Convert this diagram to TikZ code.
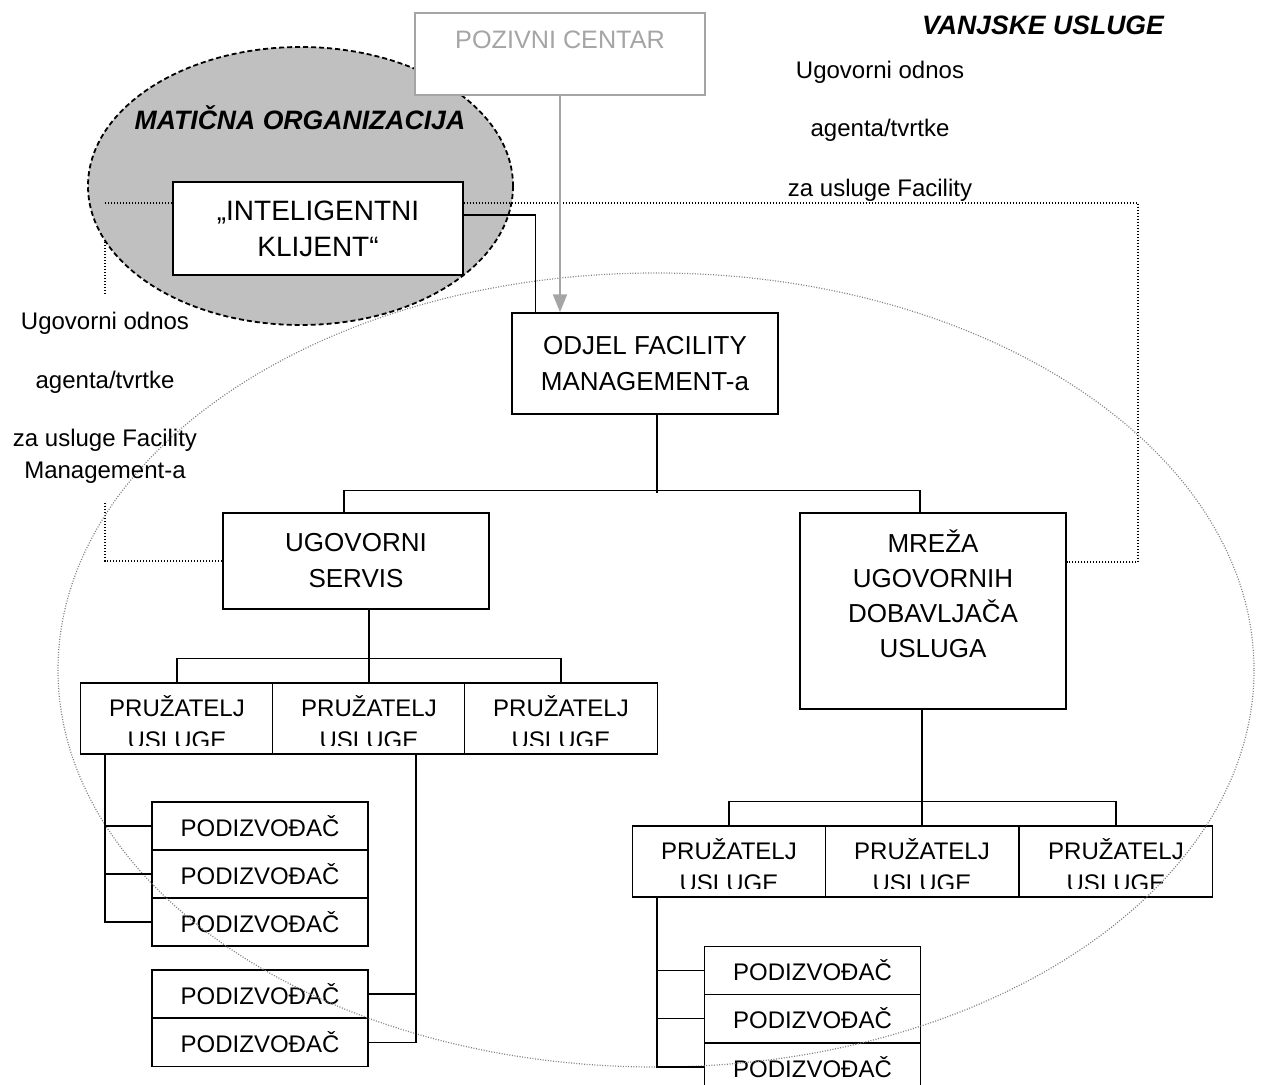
\documentclass[tikz,border=0pt]{standalone}
\usepackage{fontspec}
\setmainfont{Liberation Sans}
\usetikzlibrary{arrows.meta}
\definecolor{orggray}{RGB}{192,192,192}
\definecolor{callgray}{RGB}{165,165,165}
\begin{document}
\begin{tikzpicture}[
        x = 0.5pt, y = -0.5pt,
        line width = 0.7pt,
        box/.style = {draw, fill = white, align = center, inner sep = 0pt, font = \fontsize{13}{18}\selectfont},
        plbox/.style = {draw, fill = white, minimum width = 96.5pt, minimum height = 35.5pt, inner sep = 0pt},
        pltext/.style = {align = center, inner sep = 0pt, yshift = -1.6pt, font = \fontsize{12}{16}\selectfont},
        podbox/.style = {box, minimum width = 108pt, minimum height = 24pt, font = \fontsize{12}{14}\selectfont},
        dots/.style = {line width = 0.8pt, dash pattern = on 0.6pt off 0.9pt},
        note/.style = {inner sep = 0pt, align = center, font = \fontsize{12}{16}\selectfont},
        title/.style = {inner sep = 0pt, font = \bfseries\itshape\fontsize{13.3}{16}\selectfont}
    ]
    \useasboundingbox (0,0) rectangle (1263,1085);

    % maticna organizacija
    \draw[line width = 0.9pt, dash pattern = on 2.5pt off 1.5pt, fill = orggray] (300.5,186) ellipse [x radius = 212.5, y radius = 139];

    % boxes
    \node[box, minimum width = 145pt, minimum height = 41pt, draw = callgray, line width = 1pt, text = callgray, font = \fontsize{12.6}{14}\selectfont] (poz) at (560,54) {POZIVNI CENTAR\\ \mbox{}};
    \node[box, minimum width = 145pt, minimum height = 46.5pt, font = \fontsize{14}{18}\selectfont] (int) at (318,228.5) {„INTELIGENTNI\\KLIJENT“};
    \node[box, minimum width = 133pt, minimum height = 50.5pt] (odjel) at (645,363.5) {ODJEL FACILITY\\MANAGEMENT-a};
    \node[box, minimum width = 133pt, minimum height = 48pt] (ugs) at (356,561) {UGOVORNI\\SERVIS};
    \node[box, minimum width = 133pt, minimum height = 98pt, font = \fontsize{13}{17.5}\selectfont] (mreza) at (933,611) {MREŽA\\UGOVORNIH\\DOBAVLJAČA\\USLUGA\\ \mbox{}};

    \foreach \x [count = \i] in {177,369,561}
        \node[plbox] (pl\i) at (\x,718.5) {};
    \foreach \x [count = \i] in {729,922,1116}
        \node[plbox] (pr\i) at (\x,861.5) {};

    \foreach \y [count = \i] in {826,874,922}
        \node[podbox] (pa\i) at (260,\y) {PODIZVOĐAČ};
    \foreach \y [count = \i] in {994,1042.5}
        \node[podbox] (pb\i) at (260,\y) {PODIZVOĐAČ};
    \foreach \y [count = \i] in {970.5,1018.5,1067}
        \node[podbox] (pc\i) at (812.5,\y) {PODIZVOĐAČ};

    % pruzatelj usluge, text cut off at the bottom
    \begin{scope}
        \clip (pl1.north west) rectangle ([yshift = 4.5pt]pl3.south east);
        \foreach \i in {1,2,3}
            \node[pltext] (plt\i) at (pl\i) {PRUŽATELJ\\USLUGE};
    \end{scope}
    \begin{scope}
        \clip (pr1.north west) rectangle ([yshift = 4.5pt]pr3.south east);
        \foreach \i in {1,2,3}
            \node[pltext] (prt\i) at (pr\i) {PRUŽATELJ\\USLUGE};
    \end{scope}

    % ugovorni odnos (dotted)
    \coordinate (dl) at (105,203);
    \coordinate (dr) at (1138,203);
    \coordinate (dr2) at (1138,562);
    \coordinate (dl1) at (105,242);
    \coordinate (dl2) at (105,295);
    \coordinate (dl3) at (105,503);
    \draw[dots] (dl) -- (dl -| int.west);
    \draw[dots] (dl -| int.east) -- (dr) -- (dr2) -- (dr2 -| mreza.east);
    \draw[dots] (dl1) -- (dl2);
    \draw[dots] (dl3) |- (ugs.west);

    % vanjske usluge
    \draw[gray, line width = 0.6pt, dash pattern = on 0.5pt off 0.8pt] (656,670) ellipse [x radius = 598, y radius = 397];

    % connectors
    \coordinate (kz) at (poz.south);
    \draw[callgray, line width = 1pt, -{Triangle[width = 7pt, length = 9pt]}] (kz) -- (kz |- odjel.north);
    \draw ([yshift = 6.75pt]int.east) -| ([xshift = 12pt]odjel.north west);
    \draw ([xshift = 6pt]odjel.south) -- ++(0,78);
    \draw ([xshift = -6pt]ugs.north) -- ++(0,-22) -| ([xshift = -6.5pt]mreza.north);
    \draw (ugs.south -| pl2.north) -- (pl2.north);
    \draw (pl1.north) -- ++(0,-24) -| (pl3.north);
    \draw (mreza.south -| pr2.north) -- (pr2.north);
    \draw (pr1.north) -- ++(0,-24) -| (pr3.north);

    \coordinate (ka) at ([xshift = -36pt]pl1.south);
    \draw (ka) |- (pa3.west);
    \foreach \i in {1,2}
        \draw (pa\i.west) -- (pa\i.west -| ka);
    \coordinate (kb) at ([xshift = 23.5pt]pl2.south);
    \draw (kb) |- (pb2.east);
    \draw (pb1.east) -- (pb1.east -| kb);
    \coordinate (kc) at ([xshift = -36pt]pr1.south);
    \draw (kc) |- (pc3.west);
    \foreach \i in {1,2}
        \draw (pc\i.west) -- (pc\i.west -| kc);

    % texts
    \node[title] (matorg) at (300,118) {MATIČNA ORGANIZACIJA};
    \node[title] (vanjske) at (1043,25) {VANJSKE USLUGE};
    \node[note] (ur1) at (880,72) {Ugovorni odnos};
    \node[note] (ur2) at (880,130) {agenta/tvrtke};
    \node[note] (ur3) at (880,190) {za usluge Facility};
    \node[note] (ul1) at (105,323) {Ugovorni odnos};
    \node[note] (ul2) at (105,382) {agenta/tvrtke};
    \node[note] (ul3) at (105,456) {za usluge Facility\\Management-a};
\end{tikzpicture}
\end{document}
